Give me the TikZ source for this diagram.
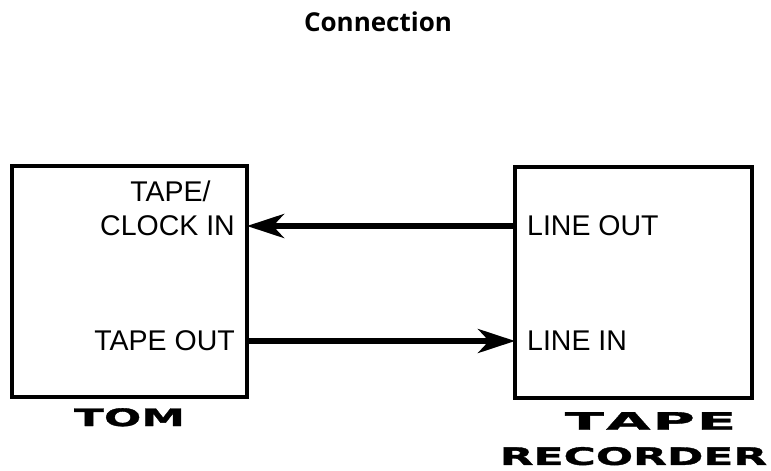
\documentclass[tikz,border=0pt]{standalone}
\usepackage{fontspec}
\setmainfont{Liberation Sans}
\newfontfamily\titlefont{Open Sans}
\newfontfamily\namefont[FakeStretch=1.83,FakeBold=1.5]{DejaVu Sans Bold}
\newfontfamily\widenamefont[FakeStretch=2.4,FakeBold=1.5]{DejaVu Sans Bold}
\usetikzlibrary{positioning,arrows.meta}
\newcommand{\gap}{\kern2pt}

\begin{document}
\begin{tikzpicture}[x=1pt,y=-1pt,
  box/.style={draw, line width=4pt, inner sep=0pt},
  port/.style={font=\fontsize{28.5}{30}\selectfont, inner xsep=12pt, inner ysep=0pt},
  unit/.style={font=\namefont\fontsize{24}{26}\selectfont, inner sep=0pt},
  sig/.style={line width=5.5pt, -{Stealth[length=37pt,width=24pt,inset=11pt]}}]
  \useasboundingbox (0,0) rectangle (771,471);
  \node[font=\titlefont\bfseries\fontsize{26}{30}\selectfont, inner sep=0pt] (title) at (378,21.5) {Connection};
  \node[box, minimum width=235pt, minimum height=231pt] (tom) at (129.5,281.5) {};
  \node[box, minimum width=237pt, minimum height=231pt] (recorder) at (633.5,282.5) {};
  \node[port, anchor=east] (clockin) at (247,226) {CLOCK IN};
  \node[port, above=14pt of clockin, xshift=3pt] (tapeslash) {TAPE/};
  \node[port, anchor=east] (tapeout) at (247,341) {TAPE OUT};
  \node[port, anchor=west] (lineout) at (515,226) {LINE OUT};
  \node[port, anchor=west] (linein) at (515,341) {LINE IN};
  \draw[sig] (lineout.west) -- (clockin.east);
  \draw[sig] (tapeout.east) -- (linein.west);
  \node[unit, below=9pt of tom] (tomname) {TOM};
  \node[unit, font=\widenamefont\fontsize{24}{26}\selectfont, below=12pt of recorder, xshift=17pt] (tapename) {T\gap A\gap P\gap E};
  \node[unit, below=17pt of tapename, xshift=-17pt] (recname) {RECORDER};
\end{tikzpicture}
\end{document}
